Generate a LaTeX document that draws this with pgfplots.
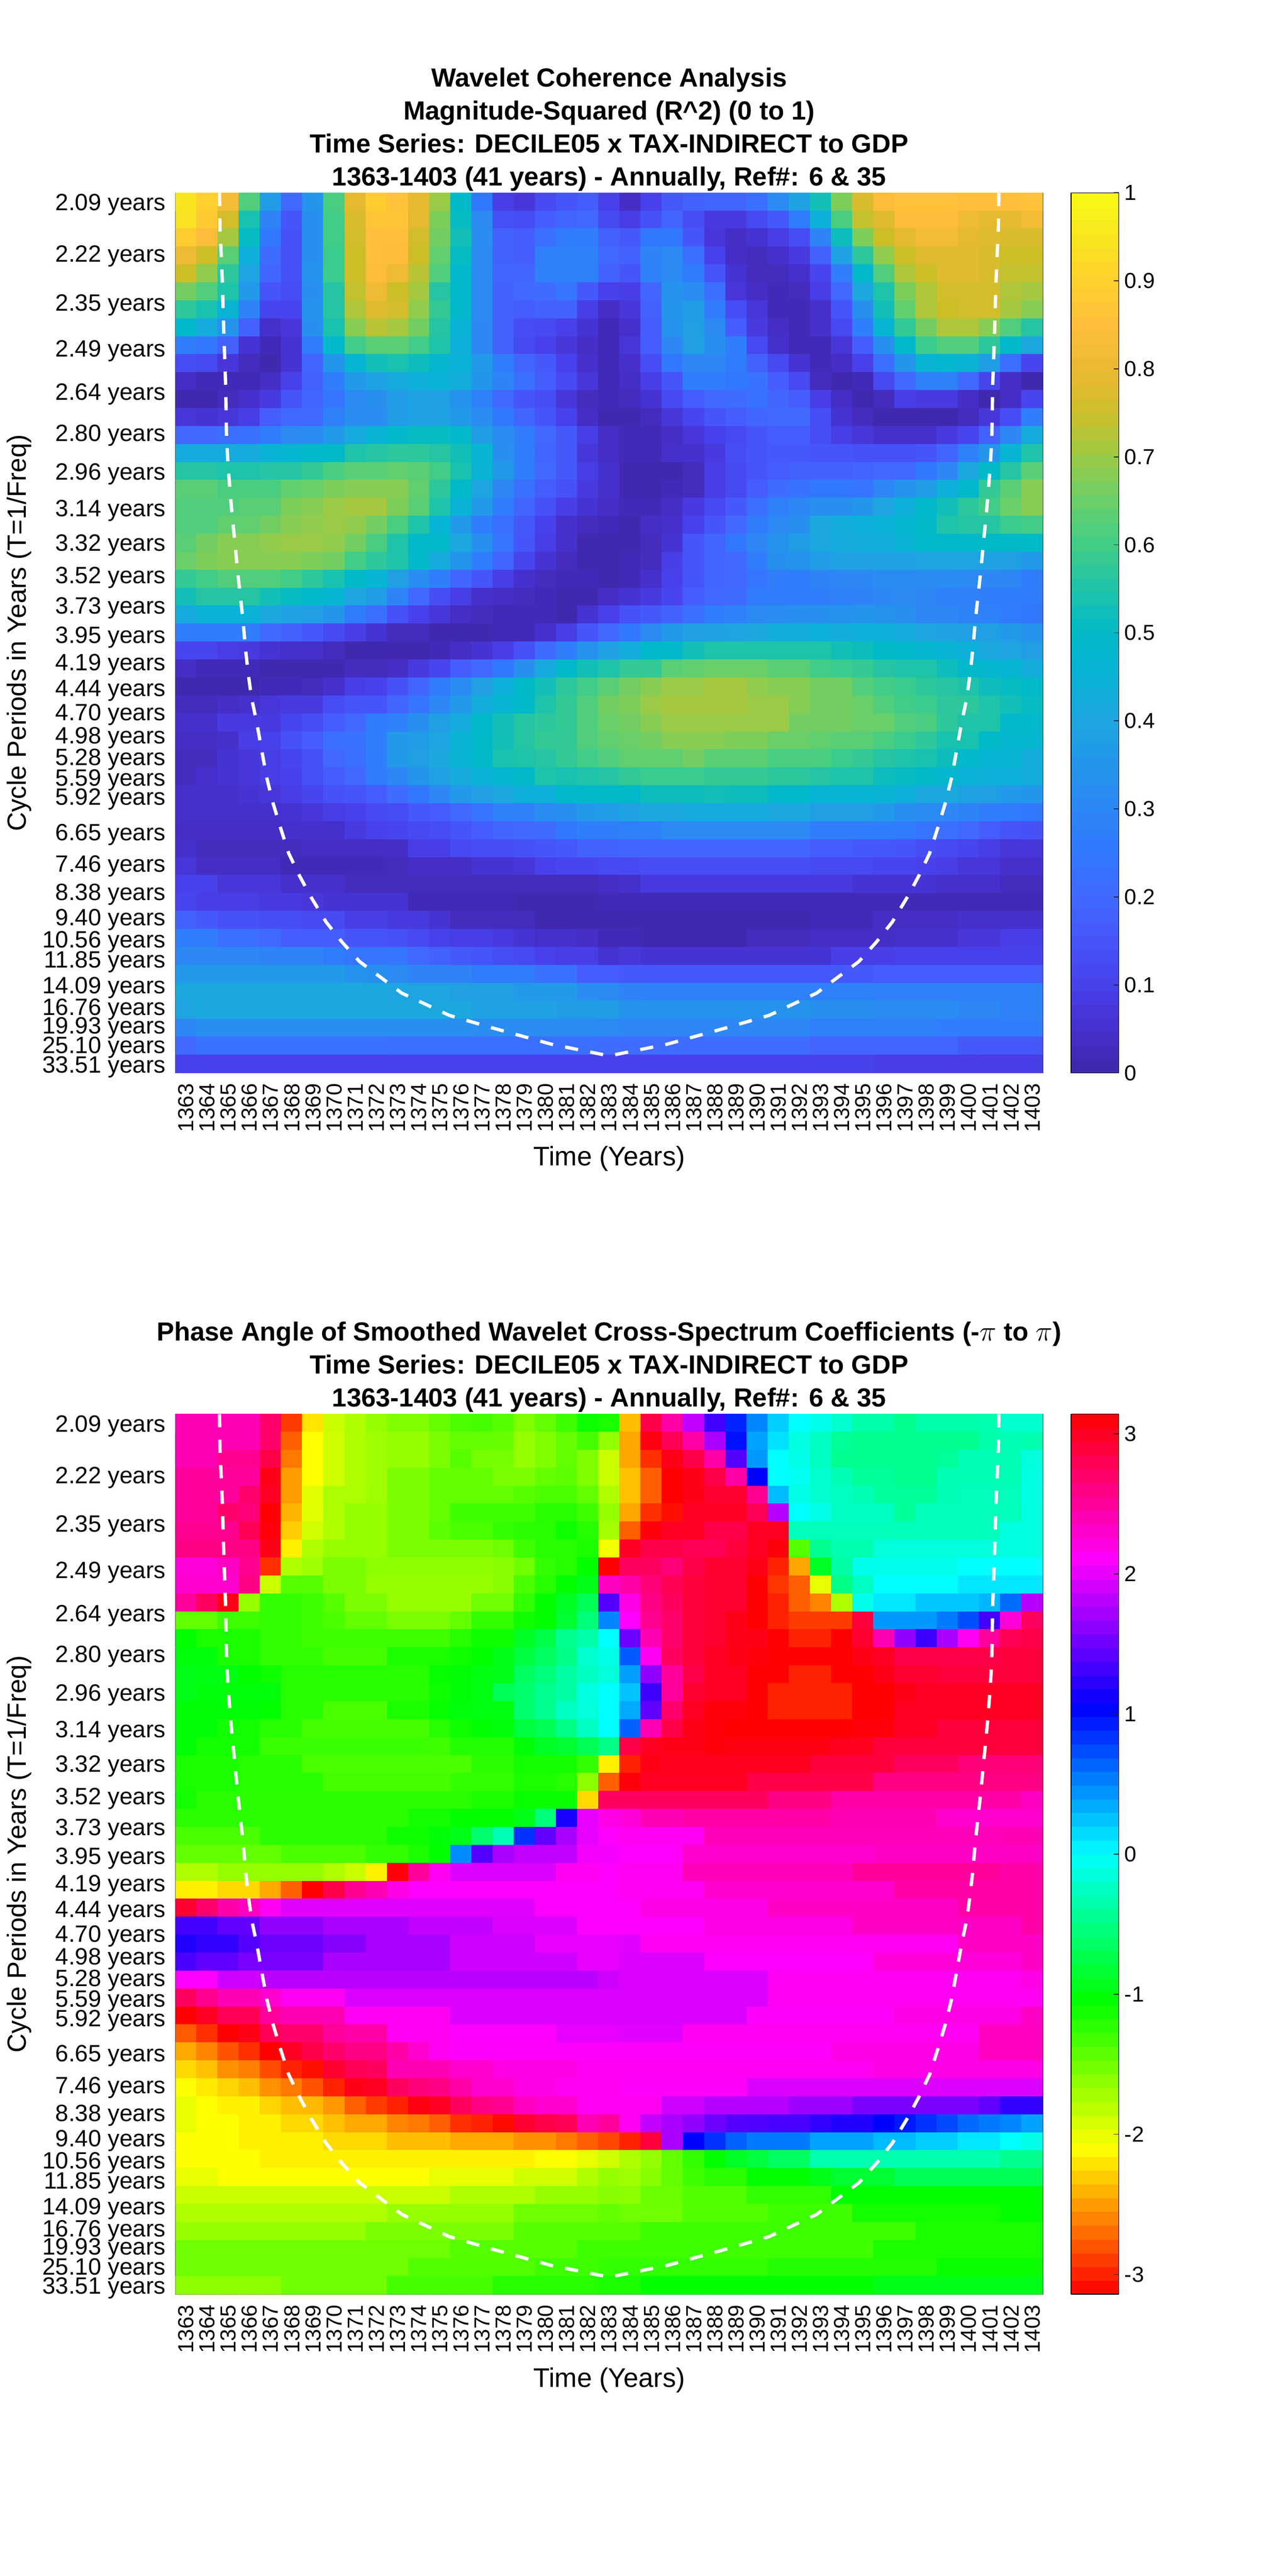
\documentclass[border=0pt]{standalone}
\usepackage{pgfplots}
\pgfplotsset{compat=1.18}
\usepackage{fontspec}
\setmainfont{Liberation Sans}
\newcount\rw \newcount\cl
\def\buf{}
\newcommand\Rr[1]{\global\cl=0 \foreach \v in {#1}{\ifnum\cl<41 \xdef\buf{\buf(\the\cl,\the\rw)[\v] }\xdef\lastv{\v}\global\advance\cl by 1 \fi}%
 \loop\ifnum\cl<41 \xdef\buf{\buf(\the\cl,\the\rw)[\lastv] }\global\advance\cl by 1 \repeat \global\advance\rw by 1 }
% Coherence: one line per row of the wavelet map, 1363..1403
\Rr{.95,.90,.82,.62,.37,.2,.35,.61,.79,.89,.86,.79,.70,.50,.25,.09,.07,.12,.15,.17,.10,.04,.10,.16,.18,.19,.19,.22,.31,.39,.53,.67,.77,.84,.86,.86,.86,.85,.85,.85,.86}
\Rr{.94,.88,.76,.54,.29,.15,.33,.60,.77,.87,.87,.79,.67,.51,.31,.14,.13,.17,.19,.2,.12,.09,.14,.19,.13,.08,.08,.12,.16,.26,.44,.61,.74,.78,.84,.84,.84,.81,.79,.79,.82}
\Rr{.89,.84,.71,.51,.25,.14,.33,.60,.76,.85,.85,.76,.66,.53,.32,.18,.17,.22,.26,.27,.18,.16,.25,.25,.15,.07,.04,.06,.09,.13,.29,.52,.67,.75,.79,.82,.82,.79,.78,.77,.77}
\Rr{.81,.75,.63,.44,.21,.14,.33,.59,.75,.85,.84,.75,.64,.51,.31,.18,.17,.28,.28,.28,.2,.18,.29,.31,.22,.1,.04,.03,.05,.08,.18,.39,.57,.69,.75,.78,.78,.78,.77,.75,.75}
\Rr{.75,.69,.57,.4,.19,.14,.34,.59,.75,.84,.81,.73,.62,.49,.31,.19,.19,.28,.28,.28,.18,.15,.28,.31,.26,.15,.06,.03,.03,.05,.11,.27,.49,.62,.72,.75,.78,.78,.77,.74,.74}
\Rr{.66,.62,.55,.36,.15,.13,.33,.56,.74,.81,.75,.71,.56,.49,.31,.18,.2,.21,.24,.16,.10,.09,.19,.34,.32,.22,.07,.04,.02,.03,.09,.2,.41,.55,.67,.72,.76,.76,.76,.72,.71}
\Rr{.57,.54,.46,.29,.11,.11,.34,.56,.72,.78,.76,.69,.58,.49,.31,.18,.17,.18,.18,.09,.04,.07,.18,.35,.37,.26,.13,.07,.02,.02,.05,.15,.33,.53,.64,.72,.75,.76,.76,.71,.68}
\Rr{.49,.42,.34,.18,.05,.07,.33,.54,.68,.73,.71,.66,.56,.46,.3,.18,.13,.12,.1,.06,.02,.05,.17,.34,.38,.31,.17,.08,.04,.02,.05,.12,.27,.47,.58,.66,.72,.72,.68,.62,.56}
\Rr{.27,.25,.18,.06,.02,.06,.27,.49,.6,.63,.63,.6,.55,.44,.3,.18,.12,.1,.07,.04,.02,.07,.17,.3,.38,.33,.27,.12,.05,.02,.02,.07,.17,.33,.49,.59,.62,.62,.57,.49,.41}
\Rr{.13,.12,.07,.03,.01,.06,.19,.35,.47,.53,.54,.52,.48,.45,.36,.26,.19,.16,.1,.05,.02,.05,.13,.25,.3,.3,.26,.18,.12,.06,.02,.04,.1,.22,.35,.46,.48,.46,.37,.22,.11}
\Rr{.04,.02,.02,.02,.04,.1,.18,.27,.36,.39,.42,.44,.45,.43,.35,.29,.22,.17,.12,.07,.02,.04,.09,.15,.27,.27,.25,.23,.17,.12,.03,.01,.02,.12,.2,.28,.28,.2,.11,.04,.01}
\Rr{.01,.01,.03,.05,.08,.15,.19,.24,.31,.33,.37,.39,.39,.34,.28,.2,.15,.13,.07,.03,.02,.03,.06,.12,.17,.2,.21,.23,.19,.17,.09,.04,.01,.03,.09,.08,.08,.04,.01,.04,.11}
\Rr{.07,.06,.07,.09,.17,.2,.2,.28,.32,.32,.37,.39,.39,.36,.32,.25,.19,.15,.1,.04,.01,.01,.03,.07,.11,.15,.17,.19,.2,.2,.13,.06,.03,.01,.01,.01,.01,.03,.07,.13,.27}
\Rr{.2,.2,.22,.23,.27,.31,.32,.36,.42,.46,.49,.51,.51,.49,.37,.32,.27,.2,.16,.09,.04,.02,.02,.04,.07,.1,.12,.15,.17,.17,.13,.09,.07,.05,.05,.05,.08,.11,.18,.3,.42}
\Rr{.42,.42,.42,.42,.46,.48,.49,.5,.55,.56,.57,.57,.56,.53,.47,.33,.27,.19,.16,.07,.04,.02,.02,.05,.05,.08,.13,.15,.16,.16,.15,.15,.14,.14,.14,.15,.19,.28,.35,.47,.55}
\Rr{.56,.56,.55,.55,.56,.56,.58,.61,.63,.63,.64,.63,.6,.54,.46,.36,.27,.2,.16,.09,.05,.01,.01,.01,.03,.09,.12,.15,.17,.18,.18,.18,.19,.2,.2,.25,.3,.41,.5,.56,.63}
\Rr{.63,.63,.61,.61,.61,.64,.65,.67,.68,.68,.68,.64,.57,.5,.4,.3,.23,.17,.14,.08,.05,.01,.01,.02,.03,.09,.12,.17,.21,.23,.25,.25,.24,.3,.34,.37,.44,.49,.58,.63,.68}
\Rr{.62,.62,.62,.63,.63,.67,.68,.70,.71,.71,.67,.63,.55,.46,.36,.27,.19,.14,.09,.06,.04,.02,.02,.04,.08,.12,.16,.22,.28,.3,.33,.33,.35,.4,.44,.49,.53,.57,.6,.65,.68}
\Rr{.62,.62,.64,.64,.66,.68,.69,.70,.69,.66,.61,.55,.47,.36,.27,.22,.16,.1,.05,.03,.02,.01,.04,.05,.1,.15,.2,.27,.31,.33,.41,.43,.44,.45,.48,.5,.55,.56,.56,.59,.6}
\Rr{.63,.66,.68,.68,.69,.70,.70,.69,.66,.61,.55,.5,.49,.41,.33,.24,.15,.09,.05,.01,.01,.01,.03,.06,.15,.19,.25,.3,.34,.37,.41,.42,.43,.43,.46,.49,.49,.49,.5,.5,.5}
\Rr{.65,.67,.68,.68,.68,.68,.67,.66,.6,.57,.55,.49,.42,.35,.27,.19,.11,.06,.03,.01,.01,.02,.03,.09,.15,.19,.2,.27,.33,.34,.37,.39,.39,.39,.39,.4,.4,.4,.39,.38,.36}
\Rr{.58,.6,.62,.62,.62,.6,.57,.54,.5,.47,.38,.32,.27,.19,.15,.09,.05,.03,.02,.02,.01,.02,.05,.1,.15,.19,.2,.24,.27,.27,.29,.3,.3,.32,.32,.32,.32,.31,.3,.3,.26}
\Rr{.53,.56,.56,.56,.53,.51,.49,.47,.4,.37,.29,.2,.13,.09,.05,.04,.03,.02,.01,.01,.04,.06,.08,.11,.17,.2,.21,.26,.27,.27,.27,.28,.29,.3,.31,.3,.28,.28,.27,.27,.26}
\Rr{.42,.45,.45,.45,.41,.39,.38,.35,.26,.22,.14,.1,.07,.04,.03,.02,.02,.02,.01,.06,.1,.14,.16,.18,.22,.27,.28,.31,.32,.33,.33,.34,.35,.34,.33,.3,.3,.29,.28,.26,.25}
\Rr{.27,.27,.27,.27,.2,.18,.16,.12,.09,.06,.03,.03,.01,.01,.01,.02,.02,.05,.09,.15,.2,.25,.31,.36,.38,.39,.4,.41,.43,.43,.44,.43,.44,.44,.42,.4,.39,.38,.38,.36,.34}
\Rr{.11,.11,.09,.08,.06,.05,.05,.03,.01,.01,.01,.01,.02,.04,.06,.09,.14,.21,.27,.34,.39,.43,.49,.49,.53,.55,.55,.55,.55,.55,.55,.53,.52,.5,.49,.48,.46,.44,.41,.4,.38}
\Rr{.04,.02,.02,.02,.01,.01,.01,.01,.03,.03,.04,.08,.11,.17,.2,.25,.33,.42,.5,.53,.55,.58,.58,.63,.64,.65,.65,.65,.63,.63,.6,.59,.58,.56,.55,.55,.52,.49,.48,.47,.43}
\Rr{.01,.01,.01,.01,.02,.02,.03,.05,.09,.1,.14,.19,.26,.32,.38,.44,.5,.53,.57,.6,.63,.66,.68,.70,.70,.71,.71,.69,.68,.68,.66,.66,.62,.6,.59,.57,.56,.55,.52,.51,.5}
\Rr{.03,.03,.04,.05,.07,.08,.08,.13,.15,.15,.19,.24,.3,.36,.43,.47,.5,.55,.58,.62,.66,.67,.70,.71,.71,.71,.71,.70,.70,.68,.66,.66,.65,.62,.6,.59,.57,.57,.55,.53,.51}
\Rr{.05,.05,.08,.08,.08,.11,.13,.17,.2,.26,.28,.33,.38,.42,.49,.53,.56,.57,.58,.62,.65,.66,.68,.70,.70,.70,.70,.70,.70,.66,.66,.66,.65,.65,.62,.61,.57,.55,.55,.49,.49}
\Rr{.04,.04,.05,.09,.1,.14,.17,.22,.23,.27,.36,.37,.4,.46,.5,.53,.56,.58,.58,.62,.64,.65,.66,.68,.68,.68,.67,.67,.65,.65,.64,.63,.63,.61,.59,.57,.54,.54,.5,.48,.48}
\Rr{.03,.03,.06,.07,.09,.11,.14,.2,.22,.27,.36,.38,.41,.46,.5,.54,.55,.56,.58,.6,.62,.64,.64,.64,.66,.63,.63,.63,.61,.61,.61,.59,.58,.56,.55,.54,.52,.49,.47,.47,.43}
\Rr{.03,.05,.06,.07,.09,.1,.14,.17,.2,.26,.3,.35,.39,.42,.45,.48,.5,.55,.54,.55,.56,.58,.59,.59,.59,.58,.58,.58,.57,.57,.56,.55,.55,.52,.51,.5,.48,.45,.44,.44,.43}
\Rr{.05,.05,.05,.06,.07,.09,.11,.14,.15,.17,.21,.25,.3,.36,.38,.41,.44,.44,.49,.5,.5,.5,.52,.52,.52,.53,.52,.52,.49,.49,.47,.47,.47,.46,.44,.41,.41,.39,.38,.36,.35}
\Rr{.05,.05,.05,.05,.05,.06,.07,.09,.1,.12,.13,.16,.17,.2,.24,.28,.28,.32,.33,.36,.37,.39,.41,.41,.42,.42,.42,.42,.41,.41,.38,.38,.38,.36,.33,.32,.3,.29,.27,.26,.25}
\Rr{.04,.04,.04,.04,.04,.05,.05,.05,.08,.1,.11,.12,.13,.15,.17,.19,.2,.21,.25,.27,.27,.28,.28,.31,.31,.31,.31,.31,.31,.31,.27,.27,.27,.27,.26,.24,.22,.2,.17,.15,.14}
\Rr{.05,.03,.03,.03,.03,.03,.04,.04,.04,.04,.04,.09,.09,.12,.13,.13,.14,.15,.16,.18,.18,.19,.19,.19,.19,.19,.19,.19,.19,.19,.17,.17,.16,.16,.15,.13,.12,.11,.09,.07,.07}
\Rr{.07,.04,.04,.04,.04,.02,.02,.02,.02,.02,.03,.04,.04,.04,.06,.06,.07,.1,.11,.11,.12,.12,.13,.13,.13,.13,.13,.13,.13,.13,.12,.12,.12,.11,.11,.1,.09,.07,.07,.05,.05}
\Rr{.1,.1,.07,.07,.07,.05,.05,.05,.03,.03,.03,.03,.03,.03,.03,.03,.03,.03,.03,.03,.04,.05,.08,.08,.08,.08,.08,.08,.08,.08,.08,.08,.06,.06,.06,.06,.05,.05,.05,.03,.03}
\Rr{.11,.09,.09,.09,.08,.08,.07,.06,.06,.06,.06,.02,.02,.02,.02,.02,.01,.01,.01,.01,.02,.02,.02,.02,.02,.02,.02,.02,.02,.02,.02,.02,.02,.02,.02,.02,.02,.02,.02,.02,.02}
\Rr{.18,.16,.14,.14,.13,.13,.12,.12,.09,.09,.08,.08,.06,.03,.03,.03,.03,.01,.01,.01,.01,.01,.01,.01,.01,.01,.01,.01,.01,.01,.02,.02,.02,.04,.04,.04,.04,.05,.05,.05,.05}
\Rr{.27,.27,.22,.22,.2,.17,.17,.17,.15,.15,.14,.12,.1,.09,.09,.08,.06,.05,.05,.04,.02,.02,.01,.01,.01,.01,.01,.03,.03,.03,.04,.04,.04,.04,.05,.05,.05,.07,.07,.09,.09}
\Rr{.3,.3,.3,.3,.29,.29,.29,.26,.24,.24,.24,.2,.18,.16,.15,.13,.12,.1,.09,.09,.06,.07,.06,.06,.06,.06,.06,.06,.06,.06,.06,.09,.09,.09,.1,.1,.1,.1,.1,.1,.1}
\Rr{.36,.36,.36,.36,.36,.36,.36,.36,.34,.33,.31,.29,.29,.29,.26,.26,.26,.23,.23,.17,.17,.16,.16,.16,.16,.16,.16,.16,.16,.16,.16,.16,.16,.17,.17,.17,.17,.17,.17,.17,.17}
\Rr{.41,.41,.41,.41,.41,.41,.41,.41,.41,.41,.4,.4,.4,.38,.38,.38,.36,.36,.36,.32,.31,.29,.28,.28,.28,.28,.28,.28,.28,.28,.28,.28,.28,.28,.28,.28,.28,.28,.28,.28,.28}
\Rr{.4,.41,.41,.41,.41,.41,.41,.41,.41,.41,.41,.41,.41,.41,.39,.39,.39,.39,.37,.37,.37,.34,.34,.34,.34,.34,.34,.34,.34,.34,.33,.33,.33,.32,.32,.32,.32,.3,.3,.28,.28}
\Rr{.3,.33,.33,.33,.33,.33,.33,.33,.33,.33,.33,.33,.33,.33,.32,.32,.32,.32,.32,.32,.31,.3,.3,.3,.3,.3,.3,.3,.3,.3,.28,.28,.28,.28,.28,.28,.27,.27,.27,.27,.27}
\Rr{.2,.23,.23,.23,.23,.23,.23,.23,.23,.23,.22,.22,.22,.22,.22,.22,.22,.22,.22,.22,.21,.21,.21,.21,.21,.21,.21,.21,.21,.21,.19,.19,.19,.19,.19,.19,.19,.16,.16,.16,.16}
\Rr{.1,.1,.1,.1,.1,.1,.1,.1,.1,.1,.1,.1,.1,.1,.1,.1,.1,.1,.1,.1,.1,.1,.1,.1,.1,.1,.1,.1,.1,.1,.1,.1,.1,.09,.09,.09,.09,.09,.09,.09,.09}
\global\let\bufA\buf \gdef\buf{} \global\rw=0
% Phase angle
\Rr{2.4,2.4,2.4,2.4,2.7,-2.9,-2.2,-1.87,-1.76,-1.66,-1.57,-1.57,-1.46,-1.36,-1.33,-1.4,-1.57,-1.45,-1.3,-1.1,-1.15,-2.36,2.85,2.45,1.85,1.33,.9,.5,.2,0,-.08,-.2,-.35,-.35,-.45,-.35,-.35,-.35,-.33,-.2,-.2}
\Rr{2.4,2.4,2.4,2.4,2.7,-2.75,-2.09,-1.9,-1.76,-1.7,-1.66,-1.66,-1.55,-1.45,-1.45,-1.47,-1.66,-1.57,-1.46,-1.33,-1.65,-2.46,3.07,2.8,2.45,1.75,.98,.38,.12,-.12,-.25,-.43,-.45,-.45,-.45,-.45,-.45,-.45,-.35,-.3,-.33}
\Rr{2.4,2.4,2.55,2.55,2.85,-2.65,-2.09,-1.9,-1.76,-1.7,-1.66,-1.66,-1.55,-1.4,-1.53,-1.53,-1.66,-1.57,-1.45,-1.57,-1.87,-2.46,-2.95,3.05,2.85,2.45,1.4,.42,0,-.1,-.25,-.45,-.45,-.45,-.45,-.45,-.42,-.3,-.3,-.3,-.15}
\Rr{2.5,2.5,2.5,2.5,3.05,-2.5,-2.09,-1.9,-1.76,-1.7,-1.55,-1.55,-1.45,-1.45,-1.45,-1.55,-1.55,-1.45,-1.42,-1.57,-1.87,-2.35,-2.75,-3.14,3.05,2.85,2.45,1.05,0,-.05,-.2,-.3,-.42,-.42,-.45,-.45,-.3,-.3,-.3,-.3,-.12}
\Rr{2.5,2.5,2.5,2.7,3.0,-2.5,-1.98,-1.75,-1.75,-1.7,-1.55,-1.55,-1.45,-1.45,-1.45,-1.45,-1.4,-1.35,-1.35,-1.45,-1.76,-2.35,-2.75,-3.14,3.05,2.95,2.95,2.55,.28,-.1,-.2,-.25,-.3,-.4,-.42,-.42,-.3,-.28,-.28,-.28,-.12}
\Rr{2.5,2.5,2.7,2.65,-3.14,-2.4,-1.98,-1.76,-1.66,-1.66,-1.55,-1.55,-1.45,-1.3,-1.3,-1.3,-1.3,-1.2,-1.2,-1.3,-1.66,-2.46,-2.95,-3.08,3.0,3.0,3.0,2.8,1.8,0,-.1,-.25,-.25,-.25,-.42,-.28,-.28,-.28,-.28,-.28,-.13}
\Rr{2.55,2.55,2.55,2.8,3.1,-2.3,-1.9,-1.76,-1.66,-1.66,-1.55,-1.55,-1.42,-1.35,-1.35,-1.25,-1.22,-1.2,-1.1,-1.2,-1.72,-2.75,3.1,3.0,3.0,2.85,2.85,3.0,3.0,-.28,-.28,-.28,-.28,-.28,-.28,-.28,-.28,-.28,-.28,-.13,-.13}
\Rr{2.6,2.6,2.6,2.6,3.05,-2.15,-1.76,-1.66,-1.66,-1.66,-1.55,-1.55,-1.55,-1.55,-1.55,-1.5,-1.3,-1.2,-1.2,-1.15,-2.05,3.0,2.85,2.85,2.8,2.8,2.9,3.0,3.1,-1.4,-.45,-.33,-.33,-.15,-.15,-.15,-.15,-.15,-.15,-.13,-.13}
\Rr{2.25,2.25,2.35,2.55,-2.95,-1.76,-1.7,-1.55,-1.55,-1.62,-1.63,-1.63,-1.63,-1.63,-1.63,-1.6,-1.5,-1.25,-1.2,-1.05,-3.14,2.75,2.75,2.65,2.85,2.95,2.95,3.05,-3.0,-2.46,-.9,-.37,-.08,-.08,-.08,-.08,-.08,0,0,0,0}
\Rr{2.3,2.3,2.3,2.6,-1.87,-1.4,-1.4,-1.55,-1.55,-1.66,-1.66,-1.66,-1.66,-1.66,-1.66,-1.6,-1.35,-1.2,-1.05,-.95,2.35,2.45,2.65,2.8,2.9,2.95,2.95,3.14,-2.92,-2.75,-2.0,-.5,-.25,0,0,0,0,.1,.1,.1,.1}
\Rr{2.5,2.75,3.05,-1.66,-1.25,-1.25,-1.3,-1.4,-1.55,-1.55,-1.66,-1.66,-1.66,-1.66,-1.5,-1.5,-1.25,-1.05,-.9,-.7,1.4,2.2,2.6,2.75,2.9,2.95,2.95,3.14,-3.0,-2.75,-2.6,-1.76,-.08,.1,.1,.23,.23,.23,.3,.6,1.8}
\Rr{-1.45,-1.45,-1.3,-1.3,-1.25,-1.25,-1.3,-1.35,-1.45,-1.45,-1.55,-1.55,-1.55,-1.45,-1.25,-1.25,-1.1,-1.05,-.85,-.55,.5,2.1,2.55,2.7,2.9,2.95,3.05,3.14,-3.0,-2.9,-2.9,-2.9,2.9,.42,.42,.42,.55,.73,1.33,2.25,2.75}
\Rr{-1.05,-1.15,-1.15,-1.15,-1.25,-1.25,-1.3,-1.3,-1.3,-1.3,-1.3,-1.3,-1.3,-1.2,-1.1,-1.1,-.9,-.75,-.45,-.35,0,1.5,2.4,2.7,2.9,2.95,3.05,3.05,3.14,-3.0,-3.0,-3.14,2.95,2.4,1.65,1.3,1.75,2.15,2.5,2.8,2.85}
\Rr{-1,-1,-1.15,-1.15,-1.25,-1.25,-1.25,-1.33,-1.33,-1.33,-1.15,-1.15,-1.15,-1.1,-1.05,-.95,-.8,-.65,-.5,-.2,-.1,.68,2.15,2.75,2.9,3.0,3.05,3.1,3.14,3.14,3.14,3.14,3.05,3.0,2.85,2.85,2.85,2.85,2.85,2.9,2.9}
\Rr{-.95,-.98,-.98,-1.05,-1.1,-1.2,-1.2,-1.2,-1.2,-1.2,-1.2,-1.2,-1.07,-1.02,-.98,-.95,-.65,-.55,-.38,-.25,-.15,.4,1.65,2.5,2.85,3.0,3.0,3.14,3.14,-3.0,-3.0,3.14,3.14,3.05,2.95,2.95,2.9,2.9,2.9,2.9,2.9}
\Rr{-.95,-1,-1,-1,-1,-1.2,-1.2,-1.2,-1.2,-1.2,-1.2,-1.2,-1.1,-1.02,-.98,-.7,-.6,-.45,-.38,-.12,0,.25,1.3,2.5,2.95,3.0,3.0,3.14,-3.0,-3.0,-3.0,-3.0,3.14,3.14,3.05,3.0,3.0,3.0,3.0,3.0,3.0}
\Rr{-1.02,-1.02,-1.02,-1.02,-1.05,-1.2,-1.2,-1.35,-1.35,-1.35,-1.15,-1.15,-1.07,-1,-.98,-.98,-.6,-.45,-.25,-.15,0,.35,1.45,2.7,3.0,3.1,3.1,3.14,-3.0,-3.0,-3.0,-3.0,3.14,3.14,3.0,3.0,3.0,3.0,3.0,3.0,3.0}
\Rr{-1.02,-1.02,-1.12,-1.12,-1.2,-1.2,-1.33,-1.33,-1.33,-1.33,-1.33,-1.33,-1.2,-1.1,-1.03,-1,-.8,-.7,-.5,-.25,0,.65,2.4,2.85,3.05,3.1,3.14,3.14,3.14,3.14,3.14,3.14,3.1,3.1,3.0,3.0,2.9,2.9,2.9,2.9,2.9}
\Rr{-1.02,-1.12,-1.12,-1.12,-1.28,-1.28,-1.28,-1.28,-1.28,-1.28,-1.28,-1.28,-1.3,-1.18,-1.18,-1.18,-1.02,-.9,-.85,-.7,-.5,2.85,3.0,3.05,3.05,3.1,3.08,3.08,3.08,3.08,3.08,3.02,3.02,2.9,2.9,2.9,2.9,2.9,2.9,2.9,2.9}
\Rr{-1.15,-1.15,-1.15,-1.2,-1.2,-1.2,-1.35,-1.35,-1.35,-1.35,-1.35,-1.35,-1.35,-1.35,-1.22,-1.22,-1.12,-1.12,-1.12,-1.25,-2.15,-3.0,3.05,3.02,3.02,3.02,3.02,3.02,3.02,3.02,2.9,2.9,2.9,2.9,2.75,2.75,2.75,2.65,2.65,2.65,2.65}
\Rr{-1.15,-1.15,-1.15,-1.2,-1.2,-1.2,-1.2,-1.33,-1.33,-1.33,-1.33,-1.33,-1.33,-1.25,-1.25,-1.25,-1.15,-1.15,-1.2,-1.62,-2.75,3.1,3.0,3.0,3.0,3.0,3.0,2.85,2.85,2.85,2.85,2.85,2.85,2.6,2.6,2.6,2.6,2.6,2.6,2.6,2.6}
\Rr{-1.12,-1.22,-1.22,-1.22,-1.22,-1.22,-1.22,-1.22,-1.22,-1.22,-1.22,-1.22,-1.22,-1.22,-1.15,-1.15,-1.08,-1.08,-1.08,-2.25,2.75,2.75,2.75,2.75,2.75,2.75,2.75,2.75,2.6,2.6,2.6,2.45,2.45,2.45,2.45,2.45,2.45,2.45,2.45,2.45,2.35}
\Rr{-1.22,-1.22,-1.22,-1.22,-1.22,-1.22,-1.22,-1.22,-1.22,-1.22,-1.22,-1.12,-1.12,-1.05,-1.05,-1.05,-.95,-.55,1.15,2.0,2.2,2.25,2.4,2.4,2.45,2.45,2.45,2.45,2.45,2.45,2.45,2.4,2.4,2.4,2.4,2.4,2.3,2.3,2.3,2.3,2.3}
\Rr{-1.35,-1.35,-1.35,-1.35,-1.22,-1.22,-1.22,-1.22,-1.22,-1.22,-1.1,-1.1,-1.02,-.95,-.6,-.3,.85,1.45,1.75,2.0,2.1,2.15,2.15,2.15,2.15,2.38,2.38,2.38,2.38,2.38,2.38,2.38,2.38,2.38,2.38,2.38,2.38,2.38,2.38,2.4,2.4}
\Rr{-1.45,-1.45,-1.45,-1.45,-1.45,-1.35,-1.35,-1.35,-1.35,-1.25,-1.25,-1.15,-1.05,.48,1.4,1.75,1.85,1.85,1.85,2.05,2.05,2.1,2.1,2.1,2.3,2.3,2.3,2.3,2.3,2.3,2.3,2.3,2.3,2.33,2.33,2.33,2.33,2.33,2.33,2.33,2.33}
\Rr{-1.76,-1.76,-1.66,-1.66,-1.66,-1.66,-1.66,-1.76,-1.87,-2.15,3.1,2.5,2.15,1.95,1.95,1.95,1.95,1.95,2.15,2.15,2.1,2.15,2.15,2.15,2.38,2.38,2.38,2.38,2.38,2.38,2.38,2.38,2.5,2.5,2.5,2.5,2.5,2.5,2.5,2.45,2.45}
\Rr{-2.15,-2.15,-2.25,-2.25,-2.45,-2.75,-3.14,2.85,2.55,2.4,2.2,2.1,2.1,2.1,2.1,2.1,2.1,2.1,2.1,2.1,2.1,2.15,2.15,2.15,2.15,2.3,2.3,2.3,2.3,2.3,2.3,2.3,2.3,2.3,2.45,2.45,2.45,2.45,2.45,2.45,2.45}
\Rr{2.95,2.7,2.45,2.35,2.15,1.98,1.98,1.98,1.98,1.98,1.98,1.98,1.98,1.98,1.98,1.98,1.98,2.1,2.1,2.1,2.1,2.1,2.2,2.2,2.2,2.2,2.2,2.2,2.33,2.33,2.33,2.33,2.33,2.33,2.33,2.33,2.33,2.45,2.45,2.45,2.45}
\Rr{1.33,1.33,1.45,1.45,1.65,1.65,1.65,1.75,1.75,1.75,1.75,1.85,1.85,1.85,1.85,1.95,1.95,1.95,1.95,2.1,2.1,2.1,2.1,2.1,2.1,2.2,2.2,2.2,2.2,2.2,2.2,2.2,2.33,2.33,2.33,2.33,2.33,2.33,2.33,2.33,2.45}
\Rr{1.18,1.25,1.25,1.4,1.5,1.5,1.5,1.6,1.6,1.75,1.75,1.75,1.75,1.9,1.9,1.9,1.9,2,2,2,2,1.98,2.15,2.15,2.15,2.15,2.15,2.15,2.15,2.15,2.15,2.15,2.15,2.15,2.15,2.15,2.15,2.33,2.33,2.33,2.33}
\Rr{1.35,1.45,1.45,1.55,1.55,1.55,1.55,1.75,1.75,1.75,1.75,1.75,1.75,1.9,1.9,1.9,1.9,1.9,1.9,2,2,1.95,1.95,1.95,1.95,2.1,2.1,2.1,2.1,2.1,2.1,2.1,2.1,2.25,2.25,2.25,2.25,2.25,2.25,2.25,2.33}
\Rr{2.1,2.1,1.9,1.9,1.82,1.82,1.82,1.82,1.82,1.82,1.82,1.82,1.82,1.82,1.82,1.82,1.82,1.82,1.82,1.82,1.9,1.95,1.95,1.95,1.95,1.95,1.95,1.95,2.15,2.15,2.15,2.15,2.15,2.15,2.15,2.15,2.15,2.15,2.15,2.15,2.2}
\Rr{2.75,2.55,2.4,2.4,2.3,2.15,2.15,2.15,1.95,1.95,1.95,1.95,1.95,1.95,1.95,1.95,1.95,1.95,1.95,1.95,1.95,1.95,1.95,1.95,1.95,1.95,1.95,1.95,2.15,2.15,2.15,2.15,2.15,2.15,2.15,2.15,2.15,2.15,2.15,2.15,2.15}
\Rr{-3.14,3.0,2.8,2.8,2.5,2.4,2.4,2.4,2.15,2.15,2.15,2.15,2.15,1.95,1.95,1.95,1.95,1.95,1.95,1.95,1.95,1.95,1.95,1.95,1.95,1.95,1.95,2.12,2.12,2.12,2.12,2.12,2.12,2.12,2.2,2.2,2.2,2.2,2.2,2.2,2.33}
\Rr{-2.77,-2.95,-3.14,3.05,2.8,2.7,2.7,2.5,2.45,2.45,2.15,2.15,2.15,2.1,2.1,2.1,2.1,2.1,2,2,2,1.98,1.98,1.98,2.15,2.15,2.15,2.15,2.15,2.15,2.15,2.15,2.15,2.15,2.15,2.15,2.15,2.15,2.35,2.35,2.35}
\Rr{-2.45,-2.6,-2.8,-2.95,-3.14,3.0,2.85,2.7,2.6,2.6,2.45,2.3,2.15,2.12,2.12,2.12,2.12,2.12,2.12,2.12,2.12,2.12,2.12,2.12,2.12,2.12,2.12,2.12,2.12,2.12,2.12,2.2,2.2,2.2,2.2,2.2,2.2,2.2,2.35,2.35,2.35}
\Rr{-2.25,-2.35,-2.55,-2.62,-2.83,-3.0,-3.08,2.95,2.8,2.75,2.4,2.4,2.4,2.3,2.3,2.2,2.2,2.2,2.2,2.15,2.15,2.15,2.15,2.15,2.15,2.15,2.15,2.15,2.15,2.15,2.15,2.15,2.15,2.2,2.2,2.2,2.2,2.2,2.2,2.2,2.2}
\Rr{-2.09,-2.18,-2.27,-2.36,-2.55,-2.65,-2.8,-3.0,3.05,3.0,2.75,2.65,2.6,2.45,2.3,2.3,2.2,2.2,2.15,2.15,2.15,2.12,2.12,2.12,2.12,2.12,2.12,1.95,1.95,1.95,1.95,1.95,1.95,1.95,1.95,1.95,1.95,1.95,1.95,1.95,1.95}
\Rr{-2.0,-2.09,-2.15,-2.15,-2.27,-2.36,-2.38,-2.52,-2.75,-2.9,-3.0,3.08,3.0,2.75,2.6,2.55,2.35,2.3,2.3,2.15,2.15,2.15,2.15,1.9,1.9,1.8,1.8,1.8,1.8,1.7,1.7,1.7,1.55,1.55,1.55,1.55,1.55,1.55,1.45,1.25,1.25}
\Rr{-2.0,-2.09,-2.09,-2.15,-2.15,-2.25,-2.25,-2.35,-2.45,-2.45,-2.6,-2.65,-2.75,-2.95,-3.0,-3.1,2.95,2.85,2.8,2.4,2.5,2.15,1.85,1.75,1.65,1.5,1.4,1.38,1.35,1.35,1.25,1.18,1.18,1.05,.95,.85,.75,.62,.55,.5,.38}
\Rr{-2.09,-2.09,-2.09,-2.15,-2.15,-2.15,-2.15,-2.25,-2.25,-2.25,-2.36,-2.36,-2.36,-2.45,-2.45,-2.45,-2.55,-2.55,-2.65,-2.75,-2.85,-3.0,2.9,1.75,1.05,.85,.65,.55,.55,.55,.38,.38,.38,.28,.28,.2,.2,.1,.1,0,-.1}
\Rr{-2.09,-2.09,-2.09,-2.09,-2.15,-2.15,-2.15,-2.15,-2.15,-2.15,-2.15,-2.15,-2.15,-2.15,-2.15,-2.15,-2.15,-2.09,-2.09,-2.0,-1.9,-1.76,-1.65,-1.45,-1.25,-1.05,-.9,-.8,-.65,-.65,-.33,-.33,-.33,-.33,-.33,-.33,-.33,-.33,-.33,-.45,-.45}
\Rr{-2.0,-2.0,-2.09,-2.09,-2.09,-2.09,-2.09,-2.09,-2.09,-2.09,-2.09,-2.09,-2.0,-2.0,-2.0,-2.0,-1.9,-1.9,-1.9,-1.76,-1.66,-1.7,-1.6,-1.45,-1.3,-1.22,-1.22,-1.05,-1.05,-1.05,-.95,-.85,-.85,-.85,-.7,-.7,-.7,-.7,-.7,-.7,-.7}
\Rr{-1.87,-1.87,-1.87,-1.87,-1.87,-1.87,-1.87,-1.87,-1.87,-1.87,-1.87,-1.87,-1.87,-1.76,-1.76,-1.76,-1.76,-1.66,-1.66,-1.66,-1.6,-1.62,-1.48,-1.48,-1.38,-1.38,-1.38,-1.25,-1.25,-1.25,-1.25,-1.05,-1.05,-1.05,-1.05,-1.05,-1.05,-1.05,-1.05,-1.05,-1.05}
\Rr{-1.76,-1.76,-1.76,-1.76,-1.76,-1.76,-1.76,-1.76,-1.76,-1.76,-1.66,-1.66,-1.66,-1.66,-1.66,-1.66,-1.5,-1.5,-1.5,-1.5,-1.45,-1.5,-1.5,-1.5,-1.38,-1.38,-1.38,-1.38,-1.3,-1.3,-1.3,-1.3,-1.12,-1.12,-1.12,-1.12,-1.12,-1.12,-1.12,-1.05,-1.05}
\Rr{-1.66,-1.66,-1.66,-1.66,-1.66,-1.66,-1.66,-1.66,-1.66,-1.55,-1.55,-1.55,-1.55,-1.55,-1.55,-1.55,-1.4,-1.4,-1.4,-1.4,-1.4,-1.4,-1.3,-1.3,-1.3,-1.3,-1.3,-1.3,-1.3,-1.3,-1.3,-1.3,-1.3,-1.3,-1.3,-1.15,-1.15,-1.15,-1.15,-1.15,-1.15}
\Rr{-1.5,-1.5,-1.5,-1.5,-1.5,-1.5,-1.5,-1.5,-1.5,-1.5,-1.5,-1.5,-1.5,-1.4,-1.4,-1.4,-1.4,-1.4,-1.4,-1.3,-1.3,-1.3,-1.3,-1.3,-1.3,-1.3,-1.3,-1.3,-1.3,-1.3,-1.3,-1.3,-1.3,-1.15,-1.15,-1.15,-1.15,-1.15,-1.15,-1.15,-1.15}
\Rr{-1.5,-1.5,-1.5,-1.5,-1.5,-1.5,-1.5,-1.5,-1.5,-1.5,-1.5,-1.38,-1.38,-1.38,-1.38,-1.38,-1.38,-1.3,-1.3,-1.3,-1.25,-1.25,-1.25,-1.25,-1.25,-1.25,-1.25,-1.25,-1.18,-1.18,-1.18,-1.18,-1.18,-1.18,-1.18,-1.18,-1.08,-1.08,-1.08,-1.08,-1.08}
\Rr{-1.62,-1.62,-1.62,-1.62,-1.62,-1.5,-1.5,-1.5,-1.5,-1.5,-1.33,-1.33,-1.33,-1.33,-1.33,-1.2,-1.2,-1.2,-1.2,-1.2,-1.15,-1.15,-1.05,-1.05,-1.05,-1.05,-1.05,-1.05,-1.05,-1.05,-1.05,-1.05,-1.05,-.95,-.95,-.95,-.95,-.95,-.95,-.95,-.95}
\global\let\bufB\buf
\pgfplotsset{
 colormap={parulaish}{rgb255(0cm)=(62,38,168); rgb255(1cm)=(70,48,205); rgb255(2cm)=(72,65,235); rgb255(3cm)=(70,85,250); rgb255(4cm)=(65,105,255); rgb255(5cm)=(50,120,255); rgb255(6cm)=(45,135,245); rgb255(7cm)=(35,150,235); rgb255(8cm)=(30,165,225); rgb255(9cm)=(10,178,215); rgb255(10cm)=(0,185,200); rgb255(11cm)=(30,195,170); rgb255(12cm)=(65,205,135); rgb255(13cm)=(105,207,105); rgb255(14cm)=(155,203,70); rgb255(15cm)=(205,190,40); rgb255(16cm)=(235,185,50); rgb255(17cm)=(255,190,60); rgb255(18cm)=(255,208,45); rgb255(19cm)=(247,230,30); rgb255(20cm)=(250,250,20)},
 colormap={hsvm}{rgb255(0cm)=(255,0,0); rgb255(1cm)=(255,255,0); rgb255(2cm)=(0,255,0); rgb255(3cm)=(0,255,255); rgb255(4cm)=(0,0,255); rgb255(5cm)=(255,0,255); rgb255(6cm)=(255,0,0)},
 common/.style={width=526.25pt,height=534pt,scale only axis,xmin=-0.5,xmax=40.5,ymin=-0.5,ymax=48.5,y dir=reverse,
 tick align=inside,tick pos=both,major tick length=5pt,tick style={black!85,line width=.5pt},axis line style={line width=.5pt,black!85},
 xtick={0,...,40},xticklabels={1363,1364,1365,1366,1367,1368,1369,1370,1371,1372,1373,1374,1375,1376,1377,1378,1379,1380,1381,1382,1383,1384,1385,1386,1387,1388,1389,1390,1391,1392,1393,1394,1395,1396,1397,1398,1399,1400,1401,1402,1403},
 x tick label style={rotate=90,anchor=east,font=\fontsize{13.2}{13.2}\selectfont},
 xticklabel shift=3pt,yticklabel shift=2.5pt,
 y tick label style={font=\fontsize{14.3}{14.3}\selectfont,yshift=-1.8pt},
 xlabel={Time (Years)},ylabel={Cycle Periods in Years (T=1/Freq)},
 every axis x label/.style={at={(axis description cs:0.5,-0.0975)},anchor=center,font=\fontsize{16.3}{16.3}\selectfont},
 every axis y label/.style={at={(axis description cs:-0.18,0.5)},rotate=90,anchor=center,font=\fontsize{16}{16}\selectfont},
 title style={font=\bfseries\fontsize{15.9}{20}\selectfont,align=center,yshift=-8.5pt},
 ytick={0,2.874,5.586,8.146,10.562,12.843,14.996,17.028,18.946,20.756,22.465,24.078,25.6,27.037,28.393,29.673,30.881,32.022,33.098,34.114,35.073,35.978,36.833,37.639,38.4,39.119,39.797,40.437,41.041,41.611,42.149,42.657,43.137,43.589,44.016,44.42,44.8,45.159,45.498,45.818,46.120,46.405,46.675,46.929,47.168,47.395,47.608,47.81,48},
 yticklabels={2.09 years,2.22 years,2.35 years,2.49 years,2.64 years,2.80 years,2.96 years,3.14 years,3.32 years,3.52 years,3.73 years,3.95 years,4.19 years,4.44 years,4.70 years,4.98 years,5.28 years,5.59 years,5.92 years,,6.65 years,,7.46 years,,8.38 years,,9.40 years,,10.56 years,,11.85 years,,,14.09 years,,,16.76 years,,,19.93 years,,,,25.10 years,,,,,33.51 years},
 colorbar,colorbar sampled,
 colorbar style={samples=65,width=29pt,height=534pt,at={(1.0325,1)},anchor=north west,
   tick align=inside,tick pos=right,major tick length=3pt,
   y tick label style={font=\fontsize{13.2}{13.2}\selectfont,yshift=0pt},
   /pgf/number format/assume math mode=true},
 },
 coi/.style={white,line width=2pt,dash pattern=on 8pt off 7.5pt}}
\newcommand\coiline{\addplot[coi] coordinates {(1.58,-.5)(1.6,1.4)(1.71,4.3)(1.78,7.2)(1.87,10.2)(1.91,13.1)(1.98,14.6)(2.07,16)(2.18,17.5)(2.31,19)(2.42,20.4)(2.55,21.8)(2.69,23.3)(2.8,24.8)(2.93,26.2)(3.09,27.6)(3.34,29)(3.57,30.5)(3.8,32)(4.09,33.4)(4.45,34.8)(4.85,36.27)(5.35,37.5)(5.9,38.7)(6.62,40.1)(7.36,41.2)(8.2,42.3)(10.2,44.06)(12.45,45.3)(14.5,46)(17.26,46.9)(20,47.55)(22.74,46.9)(25.5,46)(27.55,45.3)(29.8,44.06)(31.8,42.3)(32.64,41.2)(33.38,40.1)(34.1,38.7)(34.65,37.5)(35.15,36.27)(35.55,34.8)(35.91,33.4)(36.2,32)(36.43,30.5)(36.66,29)(36.91,27.6)(37.07,26.2)(37.2,24.8)(37.31,23.3)(37.45,21.8)(37.58,20.4)(37.69,19)(37.82,17.5)(37.93,16)(38.02,14.6)(38.09,13.1)(38.13,10.2)(38.22,7.2)(38.29,4.3)(38.4,1.4)(38.42,-.5)};}
\begin{document}
\begin{tikzpicture}[x=1pt,y=1pt]
\path[use as bounding box] (-106.5pt,-912pt) rectangle (674.75pt,651pt);
\begin{axis}[common,at={(0,0)},anchor=south west,colormap name=parulaish,point meta min=0,point meta max=1,
 colorbar style={ytick={0,0.1,...,1},yticklabels={0,0.1,0.2,0.3,0.4,0.5,0.6,0.7,0.8,0.9,1}},
 title={Wavelet Coherence Analysis\\Magnitude-Squared (R\^{}2) (0 to 1)\\Time Series: DECILE05 x TAX-INDIRECT to GDP\\1363-1403 (41 years) - Annually, Ref\#: 6 \& 35}]
\edef\tmp{\noexpand\addplot[matrix plot*,point meta=explicit,mesh/cols=41,mesh/rows=49] coordinates {\bufA};}\tmp
\coiline
\end{axis}
\begin{axis}[common,at={(0,-741pt)},anchor=south west,colormap name=hsvm,point meta min=-3.1416,point meta max=3.1416,
 colorbar style={ytick={-3,-2,-1,0,1,2,3}},
 title={Phase Angle of Smoothed Wavelet Cross-Spectrum Coefficients (-$\pi$ to $\pi$)\\Time Series: DECILE05 x TAX-INDIRECT to GDP\\1363-1403 (41 years) - Annually, Ref\#: 6 \& 35}]
\edef\tmp{\noexpand\addplot[matrix plot*,point meta=explicit,mesh/cols=41,mesh/rows=49] coordinates {\bufB};}\tmp
\coiline
\end{axis}
\end{tikzpicture}
\end{document}
